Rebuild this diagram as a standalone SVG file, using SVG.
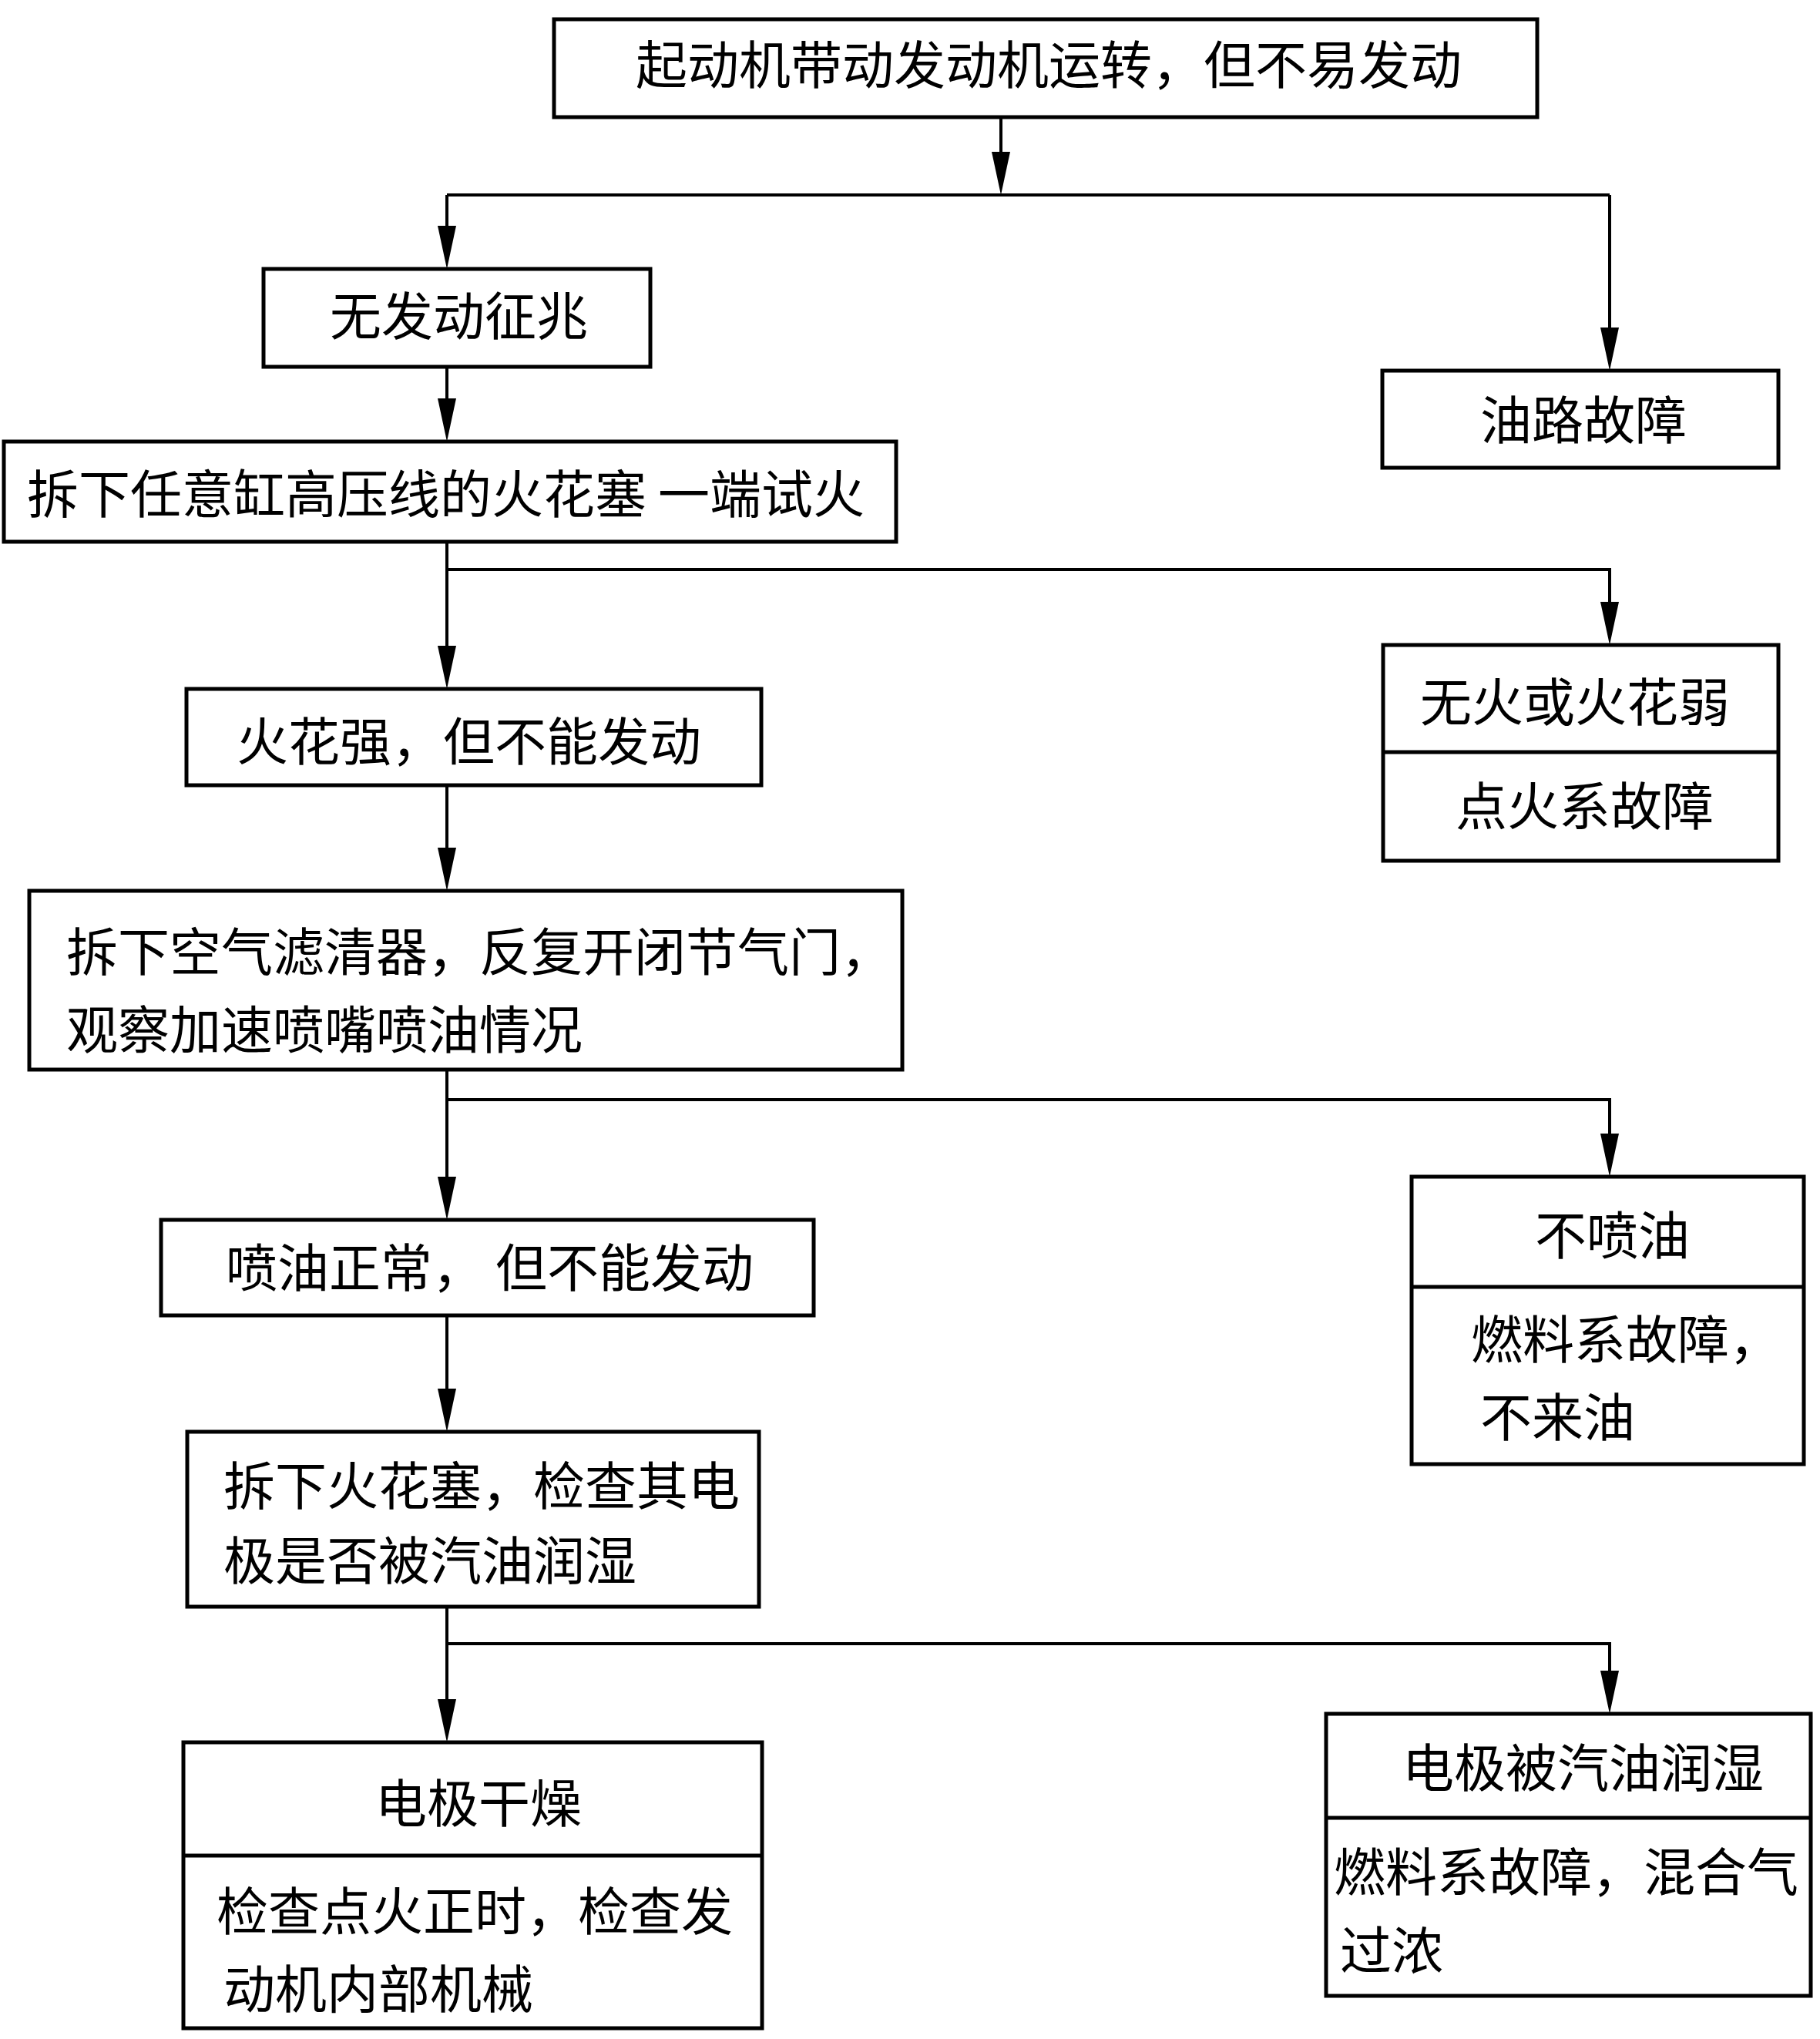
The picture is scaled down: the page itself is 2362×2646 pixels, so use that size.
<svg xmlns="http://www.w3.org/2000/svg" xmlns:xlink="http://www.w3.org/1999/xlink" width="2362" height="2646" viewBox="0 0 2362 2646">
<style>
.box{fill:#fff;stroke:#000;stroke-width:5}
.div{stroke:#000;stroke-width:5}
.ln{fill:none;stroke:#000;stroke-width:4}
.t{font-family:"Noto Sans CJK SC","Noto Sans CJK JP",sans-serif;font-size:67px;fill:#000}
</style>
<defs>
<path id="ah" d="M-12,-56 L12,-56 L0,0 Z" fill="#000"/>
</defs>
<rect width="2362" height="2646" fill="#fff"/>
<g id="connectors">
<path class="ln" d="M1299,152 V220"/>
<path class="ln" d="M580,253 H2089"/>
<path class="ln" d="M580,253 V320"/>
<path class="ln" d="M2089,253 V450"/>
<path class="ln" d="M580,476 V540"/>
<path class="ln" d="M580,703 V860"/>
<path class="ln" d="M580,739 H2089 V805"/>
<path class="ln" d="M580,1019 V1125"/>
<path class="ln" d="M580,1388 V1550"/>
<path class="ln" d="M580,1427 H2089 V1495"/>
<path class="ln" d="M580,1707 V1825"/>
<path class="ln" d="M580,2085 V2230"/>
<path class="ln" d="M580,2133 H2089 V2190"/>
<use xlink:href="#ah" x="1299" y="253"/>
<use xlink:href="#ah" x="580" y="349"/>
<use xlink:href="#ah" x="2089" y="481"/>
<use xlink:href="#ah" x="580" y="573"/>
<use xlink:href="#ah" x="580" y="894"/>
<use xlink:href="#ah" x="2089" y="837"/>
<use xlink:href="#ah" x="580" y="1156"/>
<use xlink:href="#ah" x="580" y="1583"/>
<use xlink:href="#ah" x="2089" y="1527"/>
<use xlink:href="#ah" x="580" y="1858"/>
<use xlink:href="#ah" x="580" y="2261"/>
<use xlink:href="#ah" x="2089" y="2224"/>
</g>
<g id="n1">
<rect class="box" x="719" y="25" width="1276" height="127"/>
<text class="t" x="825" y="109">起动机带动发动机运转，但不易发动</text>
</g>
<g id="n2">
<rect class="box" x="342" y="349" width="502" height="127"/>
<text class="t" x="428" y="435">无发动征兆</text>
</g>
<g id="n3">
<rect class="box" x="1794" y="481" width="514" height="126"/>
<text class="t" x="1921" y="570">油路故障</text>
</g>
<g id="n4">
<rect class="box" x="5" y="573" width="1158" height="130"/>
<text class="t" x="35" y="666">拆下任意缸高压线的火花塞 一端试火</text>
</g>
<g id="n5">
<rect class="box" x="1795" y="837" width="513" height="280"/>
<line class="div" x1="1795" y1="976" x2="2308" y2="976"/>
<text class="t" x="1843" y="936">无火或火花弱</text>
<text class="t" x="1889" y="1071">点火系故障</text>
</g>
<g id="n6">
<rect class="box" x="242" y="894" width="746" height="125"/>
<text class="t" x="307" y="987">火花强，但不能发动</text>
</g>
<g id="n7">
<rect class="box" x="38" y="1156" width="1133" height="232"/>
<text class="t" x="86" y="1260">拆下空气滤清器，反复开闭节气门，</text>
<text class="t" x="86" y="1361">观察加速喷嘴喷油情况</text>
</g>
<g id="n8">
<rect class="box" x="1832" y="1527" width="509" height="373"/>
<line class="div" x1="1832" y1="1670" x2="2341" y2="1670"/>
<text class="t" x="1992" y="1628">不喷油</text>
<text class="t" x="1909" y="1763">燃料系故障，</text>
<text class="t" x="1921" y="1864">不来油</text>
</g>
<g id="n9">
<rect class="box" x="209" y="1583" width="847" height="124"/>
<text class="t" x="293" y="1670">喷油正常， 但不能发动</text>
</g>
<g id="n10">
<rect class="box" x="243" y="1858" width="742" height="227"/>
<text class="t" x="290" y="1953">拆下火花塞，检查其电</text>
<text class="t" x="290" y="2050">极是否被汽油润湿</text>
</g>
<g id="n11">
<rect class="box" x="238" y="2261" width="751" height="371"/>
<line class="div" x1="238" y1="2408" x2="989" y2="2408"/>
<text class="t" x="487" y="2365">电极干燥</text>
<text class="t" x="281" y="2505">检查点火正时，检查发</text>
<text class="t" x="290" y="2606">动机内部机械</text>
</g>
<g id="n12">
<rect class="box" x="1721" y="2224" width="629" height="366"/>
<line class="div" x1="1721" y1="2359" x2="2350" y2="2359"/>
<text class="t" x="1820" y="2319">电极被汽油润湿</text>
<text class="t" x="1731" y="2454">燃料系故障，混合气</text>
<text class="t" x="1739" y="2556">过浓</text>
</g>
</svg>
